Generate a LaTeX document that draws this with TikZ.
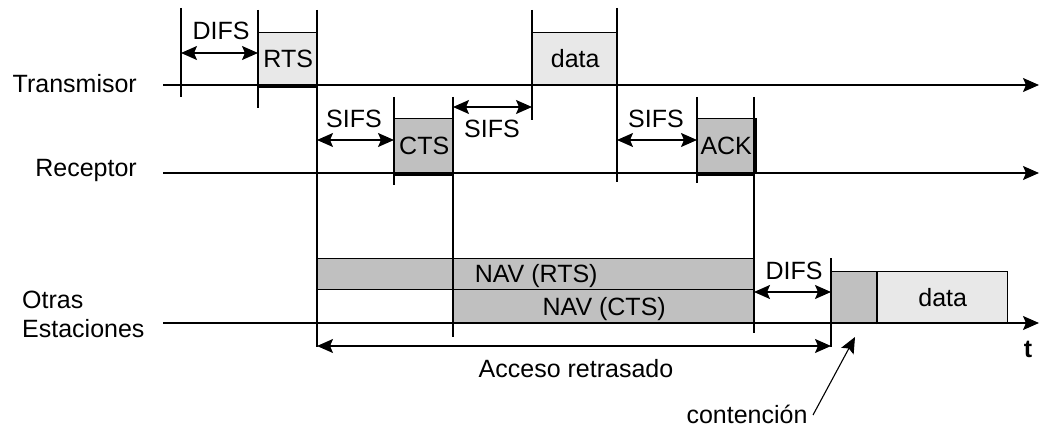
\documentclass[tikz,border=0pt]{standalone}
\usepackage{fontspec}
\setmainfont{Liberation Sans}
\usetikzlibrary{arrows.meta}
\definecolor{lgray}{HTML}{E8E8E8}
\definecolor{dgray}{HTML}{C0C0C0}
\begin{document}
\begin{tikzpicture}[x=1pt,y=-1pt,
  every node/.style={font=\fontsize{25}{28}\selectfont},
  lbl/.style={anchor=base, inner sep=0pt},
  ln/.style={line width=1.4pt, draw=black},
  thk/.style={line width=2.8pt, draw=black},
  onetip/.style={-{Stealth[length=16pt,width=14pt,inset=3pt]}},
  twotip/.style={{Stealth[length=16pt,width=14pt,inset=3pt]}-{Stealth[length=16pt,width=14pt,inset=3pt]}},
  pkt/.style={draw=black, line width=1.4pt, inner sep=0pt, anchor=north west,
              text height=17.5pt, text depth=0pt},
  pktl/.style={pkt, fill=lgray},
  pktd/.style={pkt, fill=dgray},
]
\useasboundingbox (0,0) rectangle (1040,430);

% boxes
\node[pktl, minimum width=59pt,  minimum height=53pt] (rts)   at (258,32)  {RTS};
\node[pktl, minimum width=85pt,  minimum height=53pt] (datat) at (532,32)  {data};
\node[pktd, minimum width=59pt,  minimum height=55pt] (cts)   at (394,118) {CTS};
\node[pktd, minimum width=57pt,  minimum height=55pt] (ack)   at (697,118) {ACK};
\node[pktd, minimum width=437pt, minimum height=31pt] (navr)  at (317,258) {NAV (RTS)};
\node[pktd, minimum width=301pt, minimum height=34pt] (navc)  at (453,289) {NAV (CTS)};
\node[pktd, minimum width=46pt,  minimum height=52pt] (cont)  at (831,271) {};
\node[pktl, minimum width=130pt, minimum height=52pt] (datab) at (877,271) {data};

% thicker edges
\draw[thk] (rts.south west) -- (rts.south east);
\draw[thk] (rts.south west) -- (rts.north west);
\draw[thk] (cts.south west) -- (cts.south east);
\draw[thk] (ack.south west) -- (ack.south east);
\draw[thk] (ack.south east) -- (ack.north east);
\draw[thk] (datab.south west) -- (datab.north west);

% time axes
\coordinate (tx0) at (163,85);  \coordinate (tx1) at (1039,85);
\coordinate (rx0) at (163,173); \coordinate (rx1) at (1039,173);
\coordinate (ot0) at (163,323); \coordinate (ot1) at (1039,323);
\draw[ln,onetip] (tx0) -- (tx1);
\draw[ln,onetip] (rx0) -- (rx1);
\draw[ln,onetip] (ot0) -- (ot1);

% vertical ticks
\foreach \n/\x/\ya/\yb in {v1/181/8/97, v2/258/10/108, v3/317/10/347,
    v4/532/10/120, v5/617/8/182, v6/394/97/185, v7/453/97/337,
    v8/697/97/183, v9/754/97/333, v10/831/258/347}{
  \coordinate (\n t) at (\x,\ya);
  \coordinate (\n b) at (\x,\yb);
  \draw[ln] (\n t) -- (\n b);
}

% interval arrows
\coordinate (difsA) at (181,53);  \coordinate (difsB) at (258,53);
\coordinate (sif1A) at (317,140); \coordinate (sif1B) at (394,140);
\coordinate (sif2A) at (453,107); \coordinate (sif2B) at (532,107);
\coordinate (sif3A) at (617,140); \coordinate (sif3B) at (697,140);
\coordinate (dif2A) at (754,292); \coordinate (dif2B) at (831,292);
\coordinate (accA)  at (317,346); \coordinate (accB)  at (831,346);
\draw[ln,twotip] (difsA) -- (difsB);
\draw[ln,twotip] (sif1A) -- (sif1B);
\draw[ln,twotip] (sif2A) -- (sif2B);
\draw[ln,twotip] (sif3A) -- (sif3B);
\draw[ln,twotip] (dif2A) -- (dif2B);
\draw[ln,twotip] (accA) -- (accB);

% labels
\node[lbl] (ldifs1) at (221,40)  {DIFS};
\node[lbl] (lsifs1) at (354,128) {SIFS};
\node[lbl] (lsifs2) at (492,138) {SIFS};
\node[lbl] (lsifs3) at (656,128) {SIFS};
\node[lbl] (ldifs2) at (794,279) {DIFS};
\node[lbl] (lacc)   at (576,377) {Acceso retrasado};
\node[lbl] (lcont)  at (747,423) {contención};
\node[lbl, font=\fontsize{25}{28}\selectfont\bfseries] (lt) at (1028,357) {t};
\node[lbl, anchor=base east] (ltx) at (137,93)  {Transmisor};
\node[lbl, anchor=base east] (lrx) at (137,177) {Receptor};
\node[lbl, anchor=base west] (lot1) at (22,308) {Otras};
\node[lbl, anchor=base west] (lot2) at (22,337) {Estaciones};

% contention pointer
\coordinate (cpt) at (855,337);
\coordinate (cft) at (813,415);
\draw[line width=1.1pt, onetip] (cft) -- (cpt);
\end{tikzpicture}
\end{document}
